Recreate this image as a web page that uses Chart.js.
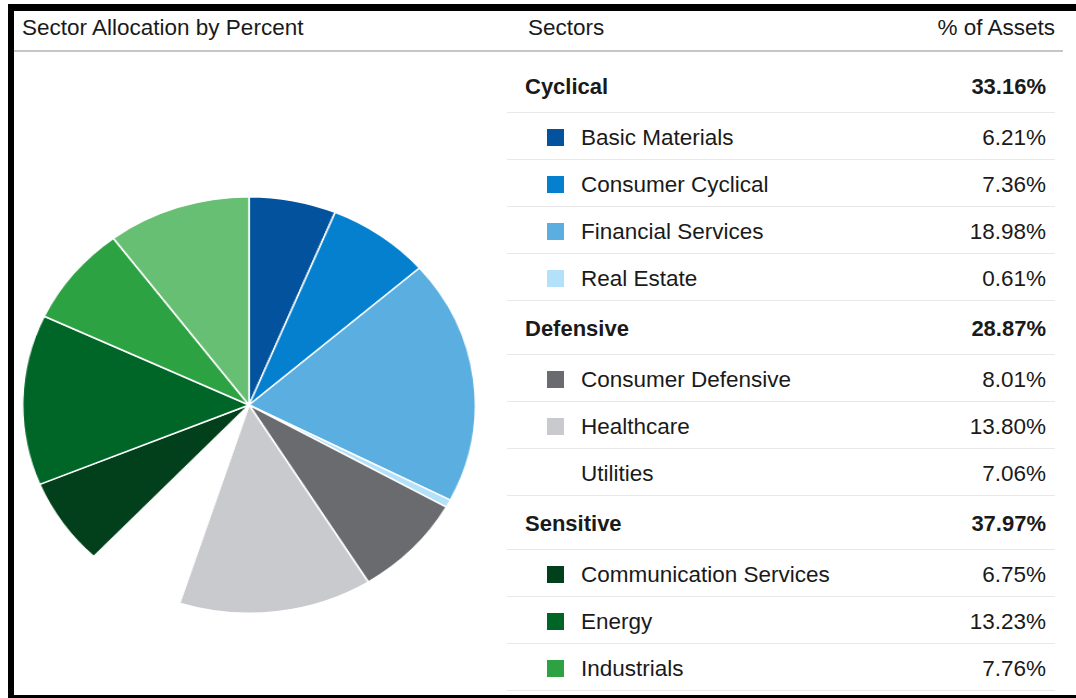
<!DOCTYPE html>
<html>
<head>
<meta charset="utf-8">
<title>Sector Allocation by Percent</title>
<script src="https://cdn.jsdelivr.net/npm/chart.js@4.4.1/dist/chart.umd.min.js"></script>
<style>
	html, body { margin:0; padding:0; width:1076px; height:698px; overflow:hidden; background:#fff;
		font-family:"Liberation Sans", Arial, sans-serif; color:#1a1a1a; }
	#frame { position:absolute; left:8px; top:4px; width:1100px; height:684px;
		border-top:7px solid #000; border-left:6px solid #000; border-bottom:7px solid #000; }
	.head { position:absolute; top:17px; font-size:22.5px; line-height:22px; white-space:nowrap; }
	#headLine { position:absolute; left:14px; top:50px; width:1049px; height:2px; background:#c6c6c6; }
	#pieWrap { position:absolute; left:40px; top:196px; width:418px; height:418px;
		transform:scaleX(1.087); transform-origin:50% 50%; }
	#table { position:absolute; left:507px; top:59px; width:548px; }
	.row { position:relative; box-sizing:border-box; border-bottom:1px solid #e8e8e8; font-size:22.5px; white-space:nowrap; }
	.row.group { height:54px; font-weight:bold; font-size:22px; }
	.row.item { height:47px; }
	.row .lbl, .row .val { position:absolute; line-height:22px; }
	.row.group .lbl { left:18px; top:17px; }
	.row.group .val { right:9px; top:17px; }
	.row.item .lbl { left:74px; top:14px; }
	.row.item .val { right:9px; top:14px; }
	.row .sq { position:absolute; left:40px; top:16px; width:17px; height:17px; }
</style>
</head>
<body>
<div id="frame"></div>
<div class="head" style="left:22px;">Sector Allocation by Percent</div>
<div class="head" style="left:528px;">Sectors</div>
<div class="head" style="right:21px;">% of Assets</div>
<div id="headLine"></div>
<div id="pieWrap"><canvas id="pieChart"></canvas></div>
<div id="table"></div>

<script>
	// 各板块数据（饼图按顺时针从12点钟方向开始）
	var sectorNames = ['Basic Materials', 'Consumer Cyclical', 'Financial Services', 'Real Estate',
		'Consumer Defensive', 'Healthcare', 'Utilities',
		'Communication Services', 'Energy', 'Industrials', 'Technology'];
	var sectorValues = [6.21, 7.36, 18.98, 0.61, 8.01, 13.80, 7.06, 6.75, 13.23, 7.76, 10.23];
	var sectorColors = ['#02529d', '#0580cf', '#5aafe0', '#b4e1fa', '#6a6b6f', '#c9cacd', '#ffffff',
		'#01401a', '#006628', '#2da243', '#67bf74'];

	// 分组
	var groupNames = ['Cyclical', 'Defensive', 'Sensitive'];
	var groupValues = [33.16, 28.87, 37.97];
	var groupMembers = [[0, 1, 2, 3], [4, 5, 6], [7, 8, 9, 10]];

	//-------------
	//- PIE CHART -
	//-------------
	var pieCanvas = document.getElementById('pieChart').getContext('2d');
	new Chart(pieCanvas, {
		type: 'pie',
		data: {
			labels: sectorNames,
			datasets: [{
				data: sectorValues,
				backgroundColor: sectorColors,
				borderColor: '#ffffff',
				borderWidth: 1.5
			}]
		},
		options: {
			responsive: true,
			maintainAspectRatio: false,
			animation: false,
			layout: { padding: 0 },
			plugins: {
				legend: { display: false },
				tooltip: { enabled: false }
			}
		}
	});

	// 右边的表格
	var table = document.getElementById('table');
	var html = '';
	groupNames.forEach(function(name, g) {
		html += '<div class="row group"><span class="lbl">' + name + '</span>' +
			'<span class="val">' + groupValues[g].toFixed(2) + '%</span></div>';
		groupMembers[g].forEach(function(i) {
			html += '<div class="row item"><span class="sq" style="background:' + sectorColors[i] + ';"></span>' +
				'<span class="lbl">' + sectorNames[i] + '</span>' +
				'<span class="val">' + sectorValues[i].toFixed(2) + '%</span></div>';
		});
	});
	table.innerHTML = html;
</script>
</body>
</html>
